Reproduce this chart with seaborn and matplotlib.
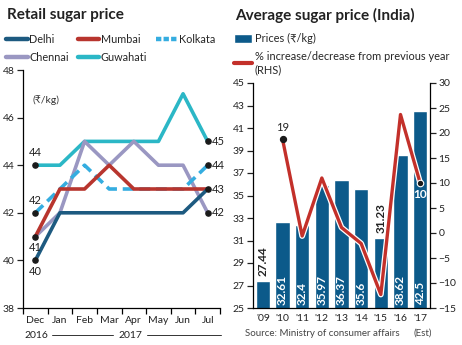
import numpy as np
import pandas as pd
import matplotlib
matplotlib.use("Agg")
import matplotlib.pyplot as plt
import matplotlib.patheffects as pe
from matplotlib.lines import Line2D
from matplotlib.patches import Patch
import seaborn as sns

sns.set_theme(style="white")
plt.rcParams['font.family'] = ['Lato', 'DejaVu Sans']

# ---------------- data ----------------
months = ["Dec", "Jan", "Feb", "Mar", "Apr", "May", "Jun", "Jul"]
delhi = [40, 42, 42, 42, 42, 42, 42, 43]
mumbai = [41, 43, 43, 44, 43, 43, 43, 43]
kolkata = [42, 43, 44, 43, 43, 43, 43, 44]
chennai = [41, 42, 45, 44, 45, 44, 44, 42]
guwahati = [44, 44, 45, 45, 45, 45, 47, 45]
cities = ["Delhi", "Mumbai", "Kolkata", "Chennai", "Guwahati"]

years = ["'09", "'10", "'11", "'12", "'13", "'14", "'15", "'16", "'17"]
prices = [27.44, 32.61, 32.4, 35.97, 36.37, 35.6, 31.23, 38.62, 42.5]
pct_change = [np.nan, 18.8, -0.6, 11.0, 1.1, -2.1, -12.3, 23.7, 10.0]

colors = {"Delhi": "#1d5a80", "Mumbai": "#b8352e", "Kolkata": "#35ade0",
          "Chennai": "#9a97c2", "Guwahati": "#2bb7c6"}
bar_color = "#0c5a8a"
red = "#c3302a"

W, H = 462, 345
fig = plt.figure(figsize=(W / 100, H / 100), dpi=100)

def fx(px):
    return px / W

def fy(py):
    return 1 - py / H

# ---------------- left chart ----------------
axL = fig.add_axes([fx(23), fy(308), fx(220) - fx(23), fy(70) - fy(308)])
series = {"Delhi": delhi, "Mumbai": mumbai, "Kolkata": kolkata,
          "Chennai": chennai, "Guwahati": guwahati}
rows = []
for c in cities:
    for i, m in enumerate(months):
        rows.append({"city": c, "pos": i, "month": m, "value": series[c][i]})
dfL = pd.DataFrame(rows)

draw_order = ["Guwahati", "Chennai", "Kolkata", "Mumbai", "Delhi"]
for c in draw_order:
    d = dfL[dfL.city == c]
    sns.lineplot(data=d, x="pos", y="value", ax=axL, color=colors[c],
                 linewidth=2.6, linestyle="--" if c == "Kolkata" else "-",
                 dashes=None, sort=False, legend=False, zorder=3)
for line in axL.lines:
    if line.get_linestyle() == "--":
        line.set_dashes([3, 1.6])
axL.set_xlim(-0.5, 7.5)
axL.set_ylim(38, 48)
axL.set_yticks(range(38, 49, 2))
axL.set_xticks(np.arange(-0.5, 8, 1))
axL.set_xticklabels([])
axL.set_xticks(range(len(months)), minor=True)
axL.set_xticklabels(months, minor=True)
axL.tick_params(axis="x", which="major", length=4, width=0.9, color="black", direction="out")
axL.tick_params(axis="x", which="minor", length=0, labelsize=7.5, pad=6, colors="#222222")
axL.tick_params(axis="y", length=4, width=0.9, direction="out", labelsize=7.5, colors="#222222", pad=2)
axL.tick_params(axis="both", which="both", bottom=True, left=True)
for s in ["top", "right"]:
    axL.spines[s].set_visible(False)
for s in ["left", "bottom"]:
    axL.spines[s].set_color("black")
    axL.spines[s].set_linewidth(0.9)
axL.set_xlabel("")
axL.set_ylabel("")
axL.grid(False)

# endpoint dots + labels
dec_vals = sorted(set(v[0] for v in series.values()))
jul_vals = sorted(set(v[-1] for v in series.values()))
axL.scatter([0] * len(dec_vals), dec_vals, s=14, color="#1a1a1a", zorder=5)
axL.scatter([7] * len(jul_vals), jul_vals, s=14, color="#1a1a1a", zorder=5)
for v in dec_vals:
    above = v >= 42
    axL.annotate(str(v), (0, v), xytext=(0, 5 if above else -4), textcoords="offset points",
                 ha="center", va="bottom" if above else "top", fontsize=8, color="#222222")
for v in jul_vals:
    axL.annotate(str(v), (7, v), xytext=(3, 0), textcoords="offset points",
                 ha="left", va="center", fontsize=8, color="#222222")
axL.text(0.05, 0.86, "(₹/kg)", transform=axL.transAxes, fontsize=7.5, color="#333333",
         family=['Lato', 'DejaVu Sans'])

# year labels
def axfx(px):
    return (px - 23) / 197
yy = (308 - 335) / 238
axL.text(axfx(36), yy, "2016", transform=axL.transAxes, ha="center", va="center", fontsize=7.5, color="#222222")
axL.text(axfx(130), yy, "2017", transform=axL.transAxes, ha="center", va="center", fontsize=7.5, color="#222222")
for a, b in [(52, 113), (147, 221)]:
    axL.plot([axfx(a), axfx(b)], [yy, yy], transform=axL.transAxes, color="#333333", lw=0.7, clip_on=False)

fig.text(fx(7), fy(15), "Retail sugar price", fontsize=11, fontweight="bold", va="center", ha="left", color="#222222")

handles = [Line2D([0], [0], color=colors[c], lw=3.2, linestyle=(0, (1.2, 0.5)) if c == "Kolkata" else "-",
                  solid_capstyle="round") for c in ["Delhi", "Chennai", "Mumbai", "Guwahati", "Kolkata"]]
labels = ["Delhi", "Chennai", "Mumbai", "Guwahati", "Kolkata"]
fig.legend(handles, labels, loc="upper left", bbox_to_anchor=(fx(6), fy(34)), ncol=3, frameon=False,
           fontsize=7.8, handlelength=2.0, handletextpad=0.15, columnspacing=0.8, labelspacing=0.65,
           borderaxespad=0, borderpad=0)

# ---------------- right chart ----------------
axR = fig.add_axes([fx(253), fy(308), fx(430) - fx(253), fy(83) - fy(308)])
dfR = pd.DataFrame({"year": years, "price": prices, "pct": pct_change, "pos": range(len(years))})
sns.barplot(data=dfR, x="year", y="price", ax=axR, color=bar_color, width=0.72, saturation=1, zorder=2)
axR.set_ylim(25, 45)
axR.set_yticks(range(25, 46, 2))
axR.set_xlim(-0.5, len(years) - 0.5)
axR.tick_params(axis="y", length=4, width=0.9, direction="out", labelsize=7.5, colors="#222222", pad=2, left=True)
axR.tick_params(axis="x", length=0, labelsize=7.5, colors="#222222", pad=4)
axR.set_xlabel("")
axR.set_ylabel("")
for s in ["top", "right"]:
    axR.spines[s].set_visible(False)
for s in ["left", "bottom"]:
    axR.spines[s].set_color("black")
    axR.spines[s].set_linewidth(0.9)
axR.grid(False)

for i, v in enumerate(prices):
    if v < 32:
        axR.text(i, v + 0.4, f"{v:g}", rotation=90, ha="center", va="bottom", fontsize=8.5,
                 color="#222222", fontweight="bold")
    else:
        axR.text(i, 25.25, f"{v:g}", rotation=90, ha="center", va="bottom", fontsize=8.5,
                 color="white", fontweight="bold")

axR2 = axR.twinx()
dline = dfR.dropna()
sns.lineplot(data=dline, x="pos", y="pct", ax=axR2, color=red, linewidth=2.4, sort=False, legend=False,
             zorder=4)
for ln in axR2.lines:
    ln.set_path_effects([pe.Stroke(linewidth=4.2, foreground="white"), pe.Normal()])
axR2.set_ylim(-15, 30)
axR2.set_yticks(range(-15, 31, 5))
axR2.set_ylabel("")
axR2.set_xlabel("")
axR2.tick_params(axis="y", length=4, width=0.9, direction="out", labelsize=7.5, colors="#222222", pad=2, right=True)
for s in ["top", "left", "bottom"]:
    axR2.spines[s].set_visible(False)
axR2.spines["right"].set_color("black")
axR2.spines["right"].set_linewidth(0.9)
axR2.grid(False)
first = dline.iloc[0]
last = dline.iloc[-1]
axR2.scatter([first.pos], [first.pct], s=18, color="#1a1a1a", zorder=6)
axR2.scatter([last.pos], [last.pct], s=22, color="#1a1a1a", edgecolor="white", linewidth=0.8, zorder=6)
axR2.annotate(f"{first.pct:.0f}", (first.pos, first.pct), xytext=(0, 4), textcoords="offset points",
              ha="center", va="bottom", fontsize=8, color="#222222")
axR2.annotate(f"{last.pct:.0f}", (last.pos, last.pct), xytext=(0, -4), textcoords="offset points",
              ha="center", va="top", fontsize=8.5, color="white", fontweight="bold")

fig.text(fx(235), fy(15), "Average sugar price (India)", fontsize=11, fontweight="bold", va="center",
         ha="left", color="#222222")
rh = [Patch(facecolor=bar_color), Line2D([0], [0], color=red, lw=3)]
fig.legend(rh, ["Prices (₹/kg)", "% increase/decrease from previous year\n(RHS)"], loc="upper left",
           bbox_to_anchor=(fx(234), fy(33)), frameon=False, handlelength=1.6,
           handleheight=0.9, handletextpad=0.3, labelspacing=0.65, borderaxespad=0, borderpad=0,
           prop={'family': ['Lato', 'DejaVu Sans'], 'size': 7.9})

fig.text(fx(245), fy(333), "Source: Ministry of consumer affairs", fontsize=7, color="#444444", va="center")
fig.text(fx(414), fy(333), "(Est)", fontsize=7, color="#444444", va="center")

fig.savefig("out.png", dpi=100)
